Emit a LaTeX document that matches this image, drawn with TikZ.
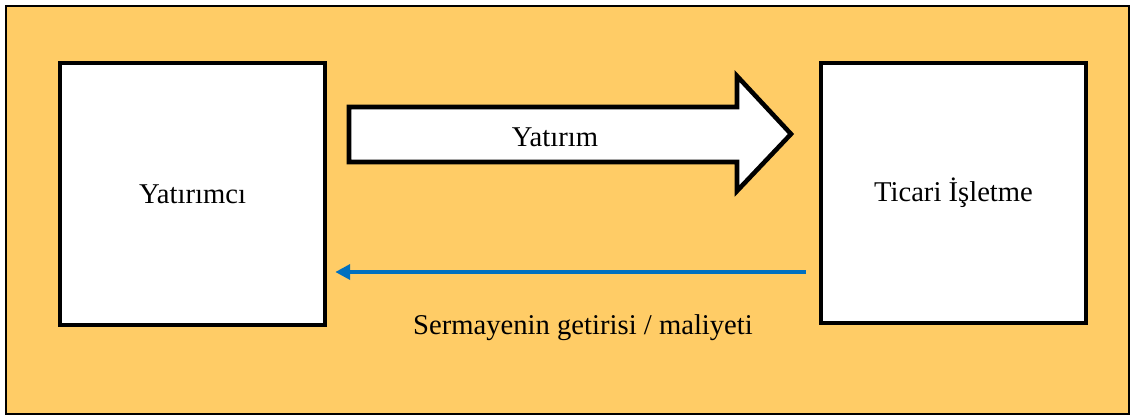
\documentclass[tikz,border=0pt]{standalone}
\usepackage{fontspec}
\setmainfont{Liberation Serif}
\usepackage{xcolor}
\usetikzlibrary{arrows.meta,positioning}

\definecolor{panel}{RGB}{255,204,102}
\definecolor{flowblue}{RGB}{0,112,192}

\tikzset{
  box/.style={draw=black, line width=2.6pt, fill=white, minimum width=5.3cm, minimum height=5.24cm, inner sep=0pt},
  bigarrow/.style={draw=black, line width=2.6pt, fill=white, line join=miter},
  flow/.style={draw=flowblue, line width=2.3pt, -{Triangle[length=8.5pt,width=8.5pt]}},
  lbl/.style={font=\fontsize{16.3}{19}\selectfont}
}

\begin{document}
\begin{tikzpicture}[x=0.02cm, y=-0.02cm]

% Background panel
\useasboundingbox (0,0) rectangle (1131,416);
\draw[fill=panel, line width=1.1pt] (6,6) rectangle (1129,414);

% Main boxes
\node[box, lbl] (investor) at (192.5,194) {Yatırımcı};
\node[box, lbl, minimum height=5.2cm] (firm) at (953.5,193) {Ticari İşletme};

% Investment arrow
\draw[bigarrow] (349,107) -- (737,107) -- (737,76) -- (791,134) -- (737,191) -- (737,162) -- (349,162) -- cycle;
\node[lbl] (invest) at (555,137) {Yatırım};

% Return arrow
\draw[flow] ([shift={(-13,79)}]firm.west) -- ([shift={(8,78)}]investor.east);
\node[lbl] (cost) at (583,328) {Sermayenin getirisi / maliyeti};

\end{tikzpicture}
\end{document}
